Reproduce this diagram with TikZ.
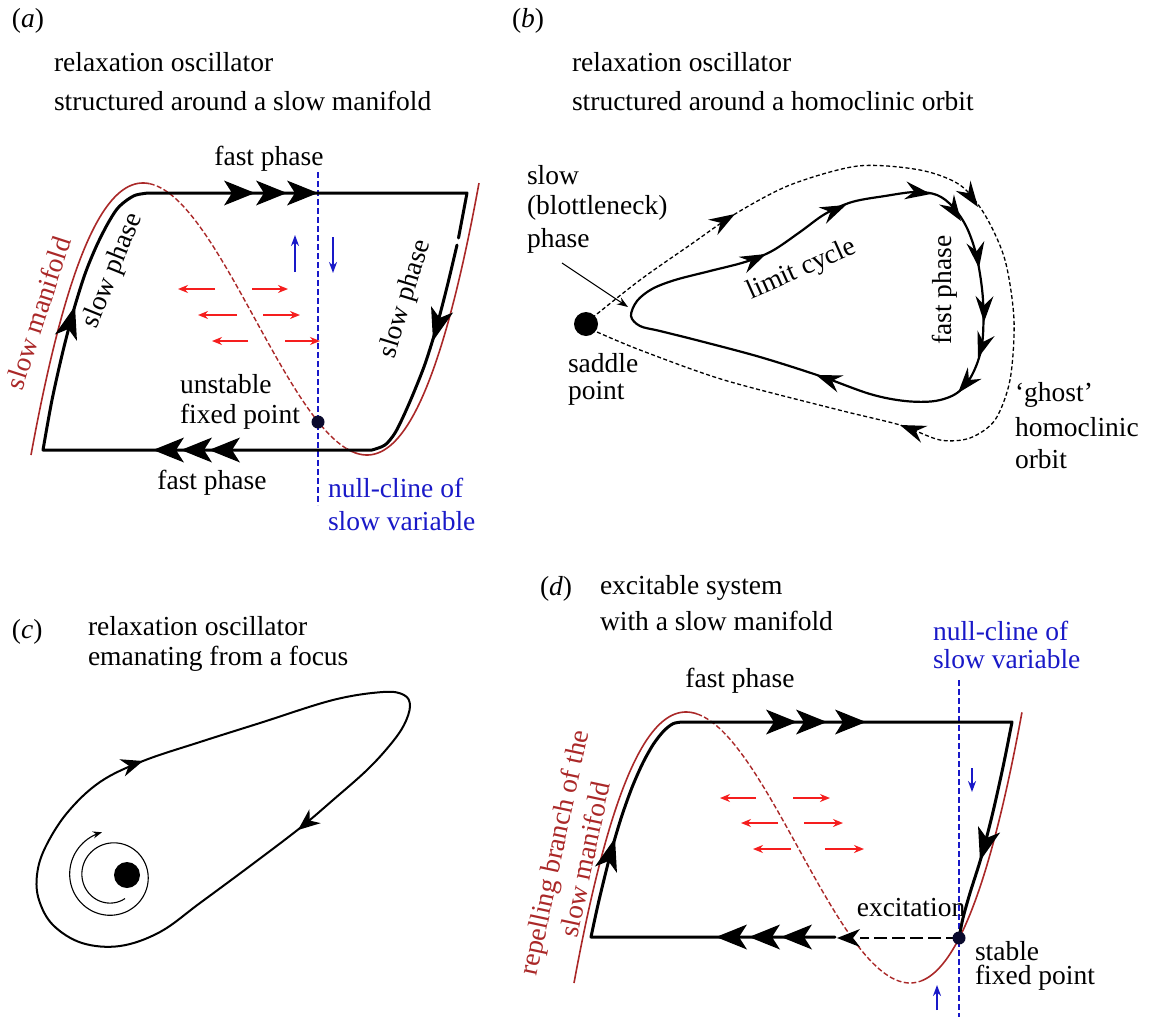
\documentclass[tikz,border=0pt]{standalone}
\usepackage{fontspec}
\setmainfont{Liberation Serif}
\usetikzlibrary{arrows.meta}
\definecolor{manred}{RGB}{170,40,40}
\definecolor{ncblue}{RGB}{25,25,200}
\definecolor{arrred}{RGB}{245,30,30}
\definecolor{fpnavy}{RGB}{10,10,45}
\tikzset{
  txt/.style={font=\fontsize{27.5}{32}\selectfont, inner sep=0pt, outer sep=0pt},
  traj/.style={line width=3pt, line join=round, line cap=round},
  man/.style={manred, line width=1.6pt},
  mandash/.style={manred, line width=1.4pt, dash pattern=on 5pt off 2.5pt},
  ncline/.style={ncblue, line width=1.4pt, dash pattern=on 6pt off 3pt},
  redarr/.style={arrred, line width=1.6pt, -{Stealth[length=10pt,width=8pt]}},
  bluearr/.style={ncblue, line width=2pt, -{Stealth[length=11pt,width=8pt]}},
  orbit/.style={line width=2.2pt, line join=round},
  ghost/.style={line width=1.3pt, dash pattern=on 4pt off 2.5pt},
  thinarr/.style={line width=1.1pt, -{Stealth[length=11pt,width=8pt]}},
  bighead/.pic={\fill (0,0) -- (-31,12.5) -- (-23,0) -- (-31,-12.5) -- cycle;},
  sidehead/.pic={\fill (0,0) -- (-33,11.5) -- (-24,0) -- (-33,-11.5) -- cycle;},
  dashhead/.pic={\fill (0,0) -- (-23,9) -- (-16,0) -- (-23,-9) -- cycle;},
  bhead/.pic={\fill (0,0) -- (-26,9) -- (-17,0) -- (-26,-9) -- cycle;},
  chead/.pic={\fill (0,0) -- (-22,9) -- (-15,0) -- (-22,-9) -- cycle;}
}
\begin{document}
\begin{tikzpicture}[x=1pt,y=-1pt]
\useasboundingbox (0,0) rectangle (1151,1017);
\fill[white] (0,0) rectangle (1151,1017);

% ================= panel (a) =================
\node[txt,anchor=west] (la) at (12,21) {(\textit{a})};
\node[txt,anchor=west] (ta1) at (54,62) {relaxation oscillator};
\node[txt,anchor=west] (ta2) at (54,101) {structured around a slow manifold};

\draw[man] plot[domain=-2:-0.94, samples=50, smooth] ({255+112*\x},{319-68*((\x)*(\x)*(\x)-3*(\x))});
\draw[mandash] plot[domain=-0.94:0.82, samples=70, smooth] ({255+112*\x},{319-68*((\x)*(\x)*(\x)-3*(\x))});
\draw[man] plot[domain=0.82:2, samples=50, smooth] ({255+112*\x},{319-68*((\x)*(\x)*(\x)-3*(\x))});

\draw[ncline] (318,172) -- (318,505);

\draw[traj] plot[smooth] coordinates {(457,245) (447,287) (436,329) (425,364) (414,392) (404,415) (395,433) (385,445) (372,450)}
  -- (43,450)
  -- plot[smooth] coordinates {(43,450) (52,400) (63,351) (74,309) (85,274) (96,247) (107,225) (117,209) (127,200) (136,195) (148,193)}
  -- (467,193) -- (458.5,238);

\pic at (255,193) {bighead};
\pic at (287,193) {bighead};
\pic at (318,193) {bighead};
\pic[rotate=180] at (153,450) {bighead};
\pic[rotate=180] at (181,450) {bighead};
\pic[rotate=180] at (209,450) {bighead};
\pic[rotate=74] at (75,306) {sidehead};
\pic[rotate=-106] at (433,341) {sidehead};

\draw[redarr] (215,289) -- (178,289);
\draw[redarr] (252,289) -- (288,289);
\draw[redarr] (237,315) -- (198,315);
\draw[redarr] (263,315) -- (300,315);
\draw[redarr] (248,341) -- (212,341);
\draw[redarr] (285,341) -- (320,341);
\draw[bluearr] (295,272) -- (295,235);
\draw[bluearr] (333,237) -- (333,273);

\fill[fpnavy] (318,422) circle (6.5);

\node[txt] (fpa1) at (269,159) {fast phase};
\node[txt] (fpa2) at (212,483) {fast phase};
\node[txt,anchor=west] (ua1) at (180,384) {unstable};
\node[txt,anchor=west] (ua2) at (180,417) {fixed point};
\node[txt,anchor=west,text=ncblue] (nca1) at (328,488) {null-cline of};
\node[txt,anchor=west,text=ncblue] (nca2) at (328,521) {slow variable};
\node[txt,rotate=72,text=manred] (sma) at (38,313) {slow manifold};
\node[txt,rotate=68] (spa1) at (113,271) {slow phase};
\node[txt,rotate=73] (spa2) at (406,299) {slow phase};

% ================= panel (b) =================
\node[txt,anchor=west] (lb) at (512,21) {(\textit{b})};
\node[txt,anchor=west] (tb1) at (572,62) {relaxation oscillator};
\node[txt,anchor=west] (tb2) at (572,101) {structured around a homoclinic orbit};

\draw[ghost] plot[smooth] coordinates {(592,318) (640,280) (690,245) (735,214) (790,185) (858,166) (920,170) (960,185) (985,215) (1005,260) (1014,320) (1010,380) (995,420) (970,438) (940,440) (900,425) (839,410) (724,380) (640,350) (597,332)};
\pic[rotate=31] at (735,214) {bhead};
\pic[rotate=-55] at (978,207) {bhead};
\pic[rotate=159] at (900,425) {bhead};

\draw[orbit] plot[smooth cycle, tension=0.55] coordinates {(631,316) (637,301) (652,289) (675,280) (710,271) (745,262) (772,251) (800,232) (825,214) (852,202) (885,196) (915,192) (937,195) (953,207) (967,228) (977,258) (983,300) (982,345) (972,375) (957,393) (935,401) (905,401) (870,394) (820,376) (760,357) (700,341) (660,331) (640,326)};
\pic[rotate=25] at (766,254) {bhead};
\pic[rotate=24] at (846,205) {bhead};
\pic[rotate=-8] at (931,194) {bhead};
\pic[rotate=-56] at (961,221) {bhead};
\pic[rotate=-82] at (979,268) {bhead};
\pic[rotate=-91] at (984,322) {bhead};
\pic[rotate=-108] at (978,358) {bhead};
\pic[rotate=-130] at (958,393) {bhead};
\pic[rotate=160] at (816,375) {bhead};

\fill (586,324) circle (12);
\draw[thinarr] (562,263) -- (628,307);

\node[txt,anchor=west] (sb1) at (527,175) {slow};
\node[txt,anchor=west] (sb2) at (527,208) {(blottleneck)};
\node[txt,anchor=west] (sb3) at (527,241) {phase};
\node[txt,anchor=west] (sp1) at (568,363) {saddle};
\node[txt,anchor=west] (sp2) at (568,393) {point};
\node[txt,rotate=24] (lcb) at (802,270) {limit cycle};
\node[txt,rotate=90] (fpb) at (945,290) {fast phase};
\node[txt,anchor=west] (gh1) at (1015,395) {`ghost'};
\node[txt,anchor=west] (gh2) at (1015,427) {homoclinic};
\node[txt,anchor=west] (gh3) at (1015,459) {orbit};

% ================= panel (c) =================
\node[txt,anchor=west] (lc) at (12,632) {(\textit{c})};
\node[txt,anchor=west] (tc1) at (88,626) {relaxation oscillator};
\node[txt,anchor=west] (tc2) at (88,659) {emanating from a focus};

\draw[orbit, line width=2pt] plot[smooth cycle, tension=0.6] coordinates {(383,692) (404,695) (410,706) (404,725) (390,745) (367,770) (333,800) (300,828) (250,866) (200,903) (160,932) (120,946) (82,943) (53,925) (39,900) (37,875) (45,848) (67,813) (100,782) (143,761) (200,742) (260,723) (333,700)};
\pic[rotate=18] at (143,761) {chead};
\pic[rotate=-141] at (298,830) {chead};

\draw[line width=1.1pt, -{Stealth[length=9pt,width=7pt]}] plot[domain=60:617, samples=140, smooth] ({112+(26+(\x-60)*19/560)*cos(\x)},{876+(26+(\x-60)*19/560)*sin(\x)});
\fill (127,875) circle (13);

% ================= panel (d) =================
\node[txt,anchor=west] (ld) at (540,589) {(\textit{d})};
\node[txt,anchor=west] (td1) at (600,588) {excitable system};
\node[txt,anchor=west] (td2) at (600,621) {with a slow manifold};

\draw[man] plot[domain=-2:-0.9, samples=50, smooth] ({798+112*\x},{847.5-67.75*((\x)*(\x)*(\x)-3*(\x))});
\draw[mandash] plot[domain=-0.9:1.1, samples=70, smooth] ({798+112*\x},{847.5-67.75*((\x)*(\x)*(\x)-3*(\x))});
\draw[man] plot[domain=1.1:2, samples=50, smooth] ({798+112*\x},{847.5-67.75*((\x)*(\x)*(\x)-3*(\x))});

\draw[ncline] (959,680) -- (959,1017);

\draw[traj] (835,937) -- (591,937)
  -- plot[smooth] coordinates {(591,937) (598.6,902) (609.7,857) (620.8,819) (631.8,788) (642.8,763) (653.5,744) (663.7,731) (673,723.7) (682,722)}
  -- (1012,722)
  -- plot[smooth] coordinates {(1012,722) (1003,767) (992,816) (981,858) (970,893) (963,918) (959,938)};
\draw[line width=2.5pt, dash pattern=on 13pt off 5pt] (959,938) -- (860,938);
\pic[rotate=180] at (837,938) {dashhead};

\pic at (797,722) {bighead};
\pic at (827,722) {bighead};
\pic at (866,722) {bighead};
\pic[rotate=180] at (716,937) {bighead};
\pic[rotate=180] at (749,937) {bighead};
\pic[rotate=180] at (781,937) {bighead};
\pic[rotate=74] at (615,838) {sidehead};
\pic[rotate=-106] at (980,861) {sidehead};

\draw[redarr] (756,798) -- (720,798);
\draw[redarr] (793,798) -- (830,798);
\draw[redarr] (778,823) -- (741,823);
\draw[redarr] (804,823) -- (843,823);
\draw[redarr] (791,849) -- (753,849);
\draw[redarr] (825,849) -- (864,849);
\draw[bluearr] (972,768) -- (972,792);
\draw[bluearr] (937,1010) -- (937,985);

\fill[fpnavy] (959,938) circle (6.5);

\node[txt] (fpd) at (740,681) {fast phase};
\node[txt,anchor=west,text=ncblue] (ncd1) at (933,631) {null-cline of};
\node[txt,anchor=west,text=ncblue] (ncd2) at (933,659) {slow variable};
\node[txt] (exd) at (911,908) {excitation};
\node[txt,anchor=west] (sfd1) at (975,951) {stable};
\node[txt,anchor=west] (sfd2) at (975,978) {fixed point};
\node[txt,rotate=78,text=manred,align=center] (rbd) at (569,856) {repelling branch of the\\slow manifold};
\end{tikzpicture}
\end{document}
